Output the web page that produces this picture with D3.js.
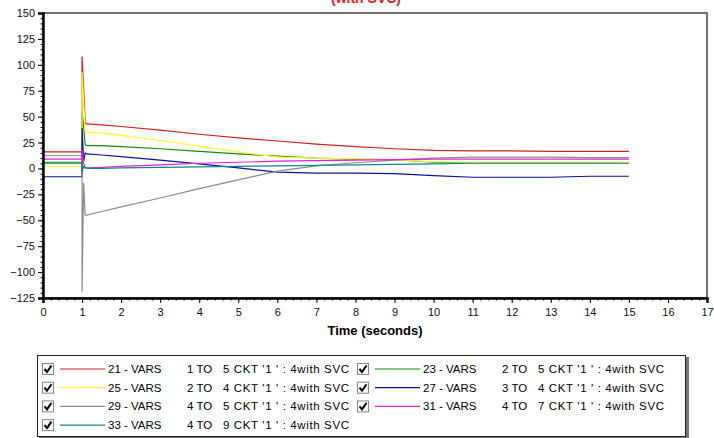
<!DOCTYPE html>
<html>
<head>
<meta charset="utf-8">
<script src="https://cdn.jsdelivr.net/npm/d3@7"></script>
<style>
    body { margin: 0; background: #fff; }
    svg { display: block; font-family: "Liberation Sans", Arial, sans-serif; }
</style>
</head>
<body>
<svg width="714" height="438"></svg>
<script>

// time samples (seconds) - 1.0 is repeated for the step at fault time
let times = [0, 1, 1, 1.04, 1.08, 1.12, 1.5, 2, 3, 4, 5, 6, 7, 8, 9, 10, 11, 12, 13, 14, 15];

// values per series
let vars21 = [16, 16, 108, 78, 44, 43, 42, 40.5, 37, 33, 29.5, 26.5, 23.5, 21, 19, 17.5, 17, 17, 16.5, 16.5, 16.5];
let vars23 = [5, 5, 55, 40, 23, 22, 22, 21, 19, 16.5, 14, 12, 10, 9, 8.5, 6, 5.5, 5.5, 5.5, 5.5, 5.5];
let vars25 = [2, 2, 93, 65, 36, 35, 34, 32, 27, 21.5, 16, 11, 10, 9.5, 8, 6.5, 6, 6, 6, 6, 6];
let vars27 = [-8, -8, 39, 7, 15, 14, 13, 11.5, 8, 4.5, 0.5, -3.5, -4.5, -4.5, -5, -7, -8.5, -8.5, -8.5, -7.5, -7.5];
let vars29 = [12.5, 12.5, -119, -14, -45, -45, -41.5, -37, -28.5, -19.5, -11, -2.5, 2.5, 5.5, 8, 10, 11, 11, 11, 10.5, 10.5];
let vars31 = [9, 9, 18, 5, 1, 0.5, 1, 2, 3.5, 5, 6, 7, 7.5, 8, 8.5, 9, 9, 9, 9, 9, 9];
let vars33 = [6, 6, -4, 2, 0.5, 0, 0, 0.5, 1, 1.5, 2, 2.5, 3, 3.5, 4, 4.5, 5, 5, 5, 5, 5];

let seriesNames = ["21 - VARS", "23 - VARS", "25 - VARS", "27 - VARS", "29 - VARS", "31 - VARS", "33 - VARS"];
let seriesFrom = ["1 TO", "2 TO", "2 TO", "3 TO", "4 TO", "4 TO", "4 TO"];
let seriesTo = ["5 CKT '1 ' : 4with SVC", "5 CKT '1 ' : 4with SVC", "4 CKT '1 ' : 4with SVC",
    "4 CKT '1 ' : 4with SVC", "5 CKT '1 ' : 4with SVC", "7 CKT '1 ' : 4with SVC", "9 CKT '1 ' : 4with SVC"];
let seriesValues = [vars21, vars23, vars25, vars27, vars29, vars31, vars33];
let seriesColors = ["#cc2222", "#128c12", "#ffff33", "#1010a0", "#8c8c8c", "#e020e0", "#108888"];

let yTicks = [-125, -100, -75, -50, -25, 0, 25, 50, 75, 100, 125, 150];
let xTicks = d3.range(0, 18);

let svg = d3.select("svg");

// scales
let x = d3.scaleLinear().domain([0, 17]).range([43, 707]);
let y = d3.scaleLinear().domain([-125, 150]).range([298, 13]);

// title (mostly cut off at the top of the picture, as in the original)
svg.append("text")
    .attr("x", 401)
    .attr("y", 3)
    .attr("text-anchor", "end")
    .attr("fill", "#e8202a")
    .style("font-size", "14px")
    .style("font-weight", "bold")
    .text("(with SVC)");

// plot frame
svg.append("rect")
    .attr("x", x(0))
    .attr("y", y(150))
    .attr("width", x(17) - x(0))
    .attr("height", y(-125) - y(150))
    .attr("fill", "none")
    .attr("stroke", "#444")
    .attr("stroke-width", 1.5);

// series lines
let line = d3.line()
    .x(function (d, i) { return x(times[i]); })
    .y(function (d) { return y(d); });

svg.append("g")
    .attr("class", "lines")
    .selectAll("path")
    .data(seriesValues)
    .enter().append("path")
    .attr("d", line)
    .attr("fill", "none")
    .attr("stroke", function (d, i) { return seriesColors[i]; })
    .attr("stroke-width", 1.2);

// y axis with minor ticks
let yAxis = svg.append("g")
    .attr("transform", "translate(" + x(0) + ",0)")
    .call(d3.axisLeft(y).tickValues(yTicks).tickSize(5).tickPadding(3));
svg.append("g")
    .attr("transform", "translate(" + x(0) + ",0)")
    .call(d3.axisLeft(y).tickValues(d3.range(-125, 151, 5)).tickSize(2.5).tickFormat(""))
    .select(".domain").remove();

// x axis with minor ticks
let xAxis = svg.append("g")
    .attr("transform", "translate(0," + y(-125) + ")")
    .call(d3.axisBottom(x).tickValues(xTicks).tickSize(5).tickPadding(5).tickFormat(d3.format("d")));
svg.append("g")
    .attr("transform", "translate(0," + y(-125) + ")")
    .call(d3.axisBottom(x).tickValues(d3.range(0, 86).map(function (d) { return d / 5; })).tickSize(2.5).tickFormat(""))
    .select(".domain").remove();

[yAxis, xAxis].forEach(function (a) {
    a.select(".domain").attr("stroke", "#000").attr("stroke-width", 2.5);
    a.selectAll("text").style("font-size", "11px").attr("fill", "#111");
});

svg.append("text")
    .attr("x", 375)
    .attr("y", 335)
    .attr("text-anchor", "middle")
    .style("font-size", "13px")
    .style("font-weight", "bold")
    .text("Time (seconds)");

//////////// LEGEND ////////////

let legend = svg.append("g").attr("class", "legend");

// box with a small shadow
legend.append("rect")
    .attr("x", 39).attr("y", 357)
    .attr("width", 650).attr("height", 82)
    .attr("fill", "#777");
legend.append("rect")
    .attr("x", 37.5).attr("y", 355.5)
    .attr("width", 648).attr("height", 81)
    .attr("fill", "#fff")
    .attr("stroke", "#222");

let items = legend.selectAll(".item")
    .data(seriesNames)
    .enter().append("g")
    .attr("class", "item")
    .attr("transform", function (d, i) {
        return "translate(" + (i % 2 === 0 ? 42 : 357) + "," + (369 + Math.floor(i / 2) * 18.7) + ")";
    });

// check boxes
items.append("rect")
    .attr("x", 0.5).attr("y", -5.5)
    .attr("width", 11).attr("height", 11)
    .attr("fill", "#fff")
    .attr("stroke", "#888");
items.append("path")
    .attr("d", "M2.5,0 L5,3 L9.5,-3.5")
    .attr("fill", "none")
    .attr("stroke", "#000")
    .attr("stroke-width", 2);

items.append("line")
    .attr("x1", 18).attr("x2", 63)
    .attr("y1", 0).attr("y2", 0)
    .attr("stroke", function (d, i) { return seriesColors[i]; })
    .attr("stroke-width", 1.2);

items.append("text")
    .attr("x", 66).attr("y", 4)
    .style("font-size", "11.5px")
    .text(function (d) { return d; });
items.append("text")
    .attr("x", 145).attr("y", 4)
    .style("font-size", "11.5px")
    .text(function (d, i) { return seriesFrom[i]; });
// the circuit text is spread a little wider, as in the original
items.append("text")
    .attr("x", 181).attr("y", 4)
    .attr("textLength", 126).attr("lengthAdjust", "spacing")
    .style("font-size", "11.5px")
    .text(function (d, i) { return seriesTo[i]; });

</script>
</body>
</html>
